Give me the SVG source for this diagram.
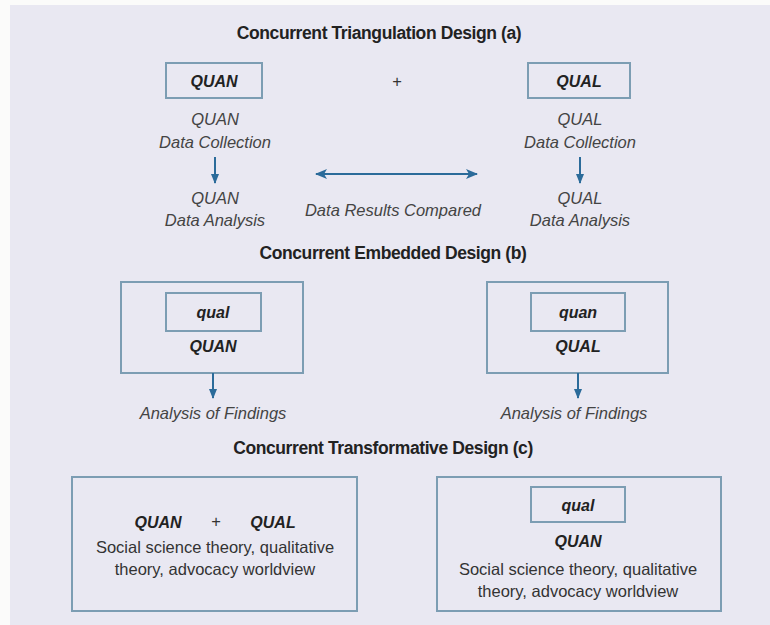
<svg xmlns="http://www.w3.org/2000/svg" width="770" height="625" viewBox="0 0 770 625">
<style>
text{font-family:"Liberation Sans",Arial,sans-serif;fill:#333;text-anchor:middle}
.t{font-weight:bold;font-size:17.5px;fill:#222;letter-spacing:-0.4px}
.bi{font-weight:bold;font-style:italic;font-size:16px;fill:#222}
.i{font-style:italic;font-size:16.5px;fill:#444}
.n{font-size:16.5px;fill:#333}
.box{fill:none;stroke:#7c9db3;stroke-width:2}
.conn{stroke:#2b6b9a;stroke-width:2;fill:none}
</style>
<defs>
<marker id="ah" viewBox="0 0 10 10" refX="9" refY="5" markerWidth="5" markerHeight="5" orient="auto-start-reverse">
<path d="M0,1 L10,5 L0,9 z" fill="#2b6b9a"/>
</marker>
<marker id="ah2" markerUnits="userSpaceOnUse" viewBox="0 0 12 10" refX="11" refY="5" markerWidth="12" markerHeight="10" orient="auto-start-reverse">
<path d="M0,0 L12,5 L0,10 L3,5 z" fill="#2b6b9a"/>
</marker>
</defs>
<rect x="0" y="0" width="770" height="625" fill="#fbfbfa"/>
<rect x="10" y="5" width="760" height="620" fill="#e9e8f2"/>

<g id="titles">
<text class="t" x="379" y="39">Concurrent Triangulation Design (a)</text>
<text class="t" x="393" y="259">Concurrent Embedded Design (b)</text>
<text class="t" x="383" y="454">Concurrent Transformative Design (c)</text>
</g>

<g id="a-quan">
<rect class="box" x="166" y="63" width="96" height="35"/>
<text class="bi" x="214" y="87">QUAN</text>
</g>
<text class="n" x="397" y="87" font-size="15">+</text>
<g id="a-qual">
<rect class="box" x="528" y="63" width="102" height="35"/>
<text class="bi" x="579" y="87">QUAL</text>
</g>
<g id="a-quan-collect">
<text class="i" x="215" y="125">QUAN</text>
<text class="i" x="215" y="148">Data Collection</text>
</g>
<g id="a-quan-analysis">
<text class="i" x="215" y="204">QUAN</text>
<text class="i" x="215" y="226">Data Analysis</text>
</g>
<g id="a-qual-collect">
<text class="i" x="580" y="125">QUAL</text>
<text class="i" x="580" y="148">Data Collection</text>
</g>
<g id="a-qual-analysis">
<text class="i" x="580" y="204">QUAL</text>
<text class="i" x="580" y="226">Data Analysis</text>
</g>
<g id="a-compare">
<text class="i" x="393" y="216">Data Results Compared</text>
</g>

<g id="b-left">
<rect class="box" x="121" y="282" width="182" height="91"/>
<rect class="box" x="166" y="293" width="95" height="38"/>
<text class="bi" x="213" y="318">qual</text>
<text class="bi" x="213" y="352">QUAN</text>
</g>
<g id="b-left-findings">
<text class="i" x="213" y="419">Analysis of Findings</text>
</g>
<g id="b-right">
<rect class="box" x="487" y="282" width="181" height="91"/>
<rect class="box" x="531" y="293" width="94" height="38"/>
<text class="bi" x="578" y="318">quan</text>
<text class="bi" x="578" y="352">QUAL</text>
</g>
<g id="b-right-findings">
<text class="i" x="574" y="419">Analysis of Findings</text>
</g>

<g id="c-left">
<rect class="box" x="72" y="477" width="285" height="134"/>
<text class="bi" x="158" y="528">QUAN</text>
<text class="n" x="216" y="527" font-size="15">+</text>
<text class="bi" x="273" y="528">QUAL</text>
<text class="n" x="215" y="553">Social science theory, qualitative</text>
<text class="n" x="215" y="575">theory, advocacy worldview</text>
</g>
<g id="c-right">
<rect class="box" x="437" y="477" width="284" height="134"/>
<rect class="box" x="531" y="487" width="94" height="35"/>
<text class="bi" x="578" y="511">qual</text>
<text class="bi" x="578" y="547">QUAN</text>
<text class="n" x="578" y="575">Social science theory, qualitative</text>
<text class="n" x="578" y="597">theory, advocacy worldview</text>
</g>

<g id="connectors">
<line class="conn" x1="215" y1="157" x2="215" y2="183" stroke-width="1.5" marker-end="url(#ah)"/>
<line class="conn" x1="580" y1="157" x2="580" y2="183" stroke-width="1.5" marker-end="url(#ah)"/>
<line class="conn" x1="316" y1="174" x2="477" y2="174" stroke-width="2.5" marker-start="url(#ah2)" marker-end="url(#ah2)"/>
<line class="conn" x1="213" y1="373" x2="213" y2="398" stroke-width="1.5" marker-end="url(#ah)"/>
<line class="conn" x1="578" y1="373" x2="578" y2="398" stroke-width="1.5" marker-end="url(#ah)"/>
</g>
</svg>
